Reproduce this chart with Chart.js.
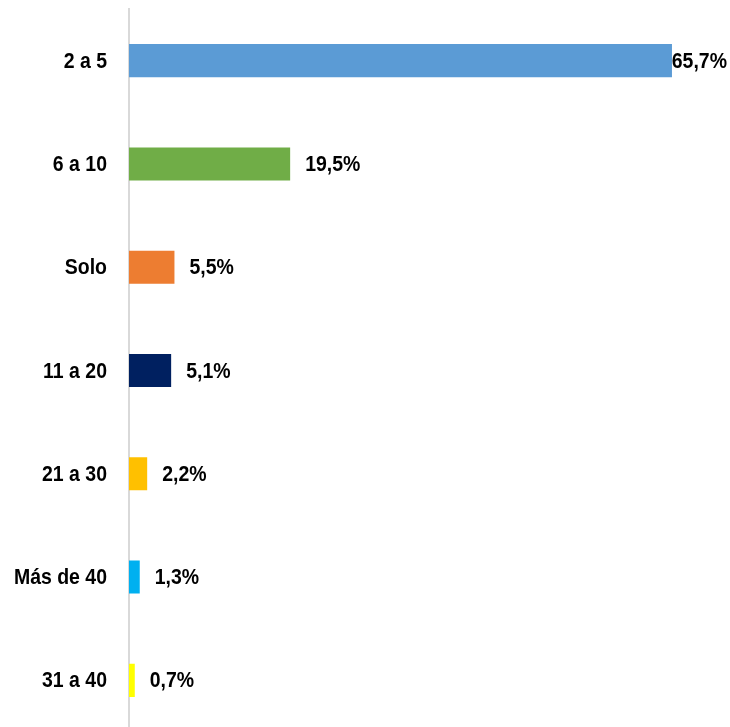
<!DOCTYPE html>
<html>
<head>
<meta charset="utf-8">
<script src="https://cdn.jsdelivr.net/npm/chart.js@4.4.1/dist/chart.umd.min.js"></script>
<style>
  html, body { margin: 0; padding: 0; background: #fff; overflow: hidden; }
  canvas { position: absolute; left: 0; top: 0; }
</style>
</head>
<body>
<canvas id="chart" width="730" height="740"></canvas>
<script>
/* ===================== DATA ===================== */
const categories = ["2 a 5", "6 a 10", "Solo", "11 a 20", "21 a 30", "Más de 40", "31 a 40"];
const shares = [65.7, 19.5, 5.5, 5.1, 2.2, 1.3, 0.7];
const barColors = ["#5B9BD5", "#70AD47", "#ED7D31", "#002060", "#FFC000", "#00B0F0", "#FFFF00"];

const FONT = "bold 22px 'Liberation Sans', Arial, sans-serif";
const SQUEEZE = 0.885; // the original text is a condensed face

/* ===================== HELPERS ===================== */
function drawNarrow(ctx, txt, x, y, align) {
  const w = ctx.measureText(txt).width * SQUEEZE;
  const left = align === "right" ? x - w : x;
  ctx.save();
  ctx.translate(left, y);
  ctx.scale(SQUEEZE, 1);
  ctx.fillText(txt, 0, 0);
  ctx.restore();
  return w;
}

/* ===================== LABELS ===================== */
const textLabels = {
  id: "textLabels",
  afterDatasetsDraw(chart) {
    const ctx = chart.ctx;
    const meta = chart.getDatasetMeta(0);
    const yScale = chart.scales.y;
    ctx.save();
    ctx.font = FONT;
    ctx.fillStyle = "#000";
    ctx.textBaseline = "middle";
    ctx.textAlign = "left";

    // category names, right aligned left of the axis
    categories.forEach((name, i) => {
      drawNarrow(ctx, name, yScale.right - 22, yScale.getPixelForTick(i) + 1, "right");
    });

    // value labels after each bar
    meta.data.forEach((bar, i) => {
      const txt = shares[i].toFixed(1).replace(".", ",") + "%";
      const w = ctx.measureText(txt).width * SQUEEZE;
      const x = Math.min(bar.x + 15, 727 - w);
      drawNarrow(ctx, txt, x, bar.y + 1, "left");
    });
    ctx.restore();
  }
};

/* ===================== CHART ===================== */
new Chart(document.getElementById("chart"), {
  type: "bar",
  data: {
    labels: categories,
    datasets: [{
      data: shares,
      backgroundColor: barColors,
      borderWidth: 0,
      categoryPercentage: 1,
      barPercentage: 0.32
    }]
  },
  options: {
    indexAxis: "y",
    responsive: false,
    animation: false,
    layout: {
      padding: { top: 9, bottom: 8, left: 0, right: 22.5 }
    },
    plugins: {
      legend: { display: false },
      tooltip: { enabled: false }
    },
    scales: {
      x: {
        display: false,
        min: 0,
        max: 70
      },
      y: {
        afterFit: (scale) => { scale.width = 129; },
        grid: { display: false, drawTicks: false },
        border: { display: true, color: "#d9d9d9", width: 2 },
        ticks: { display: false }
      }
    }
  },
  plugins: [textLabels]
});
</script>
</body>
</html>
